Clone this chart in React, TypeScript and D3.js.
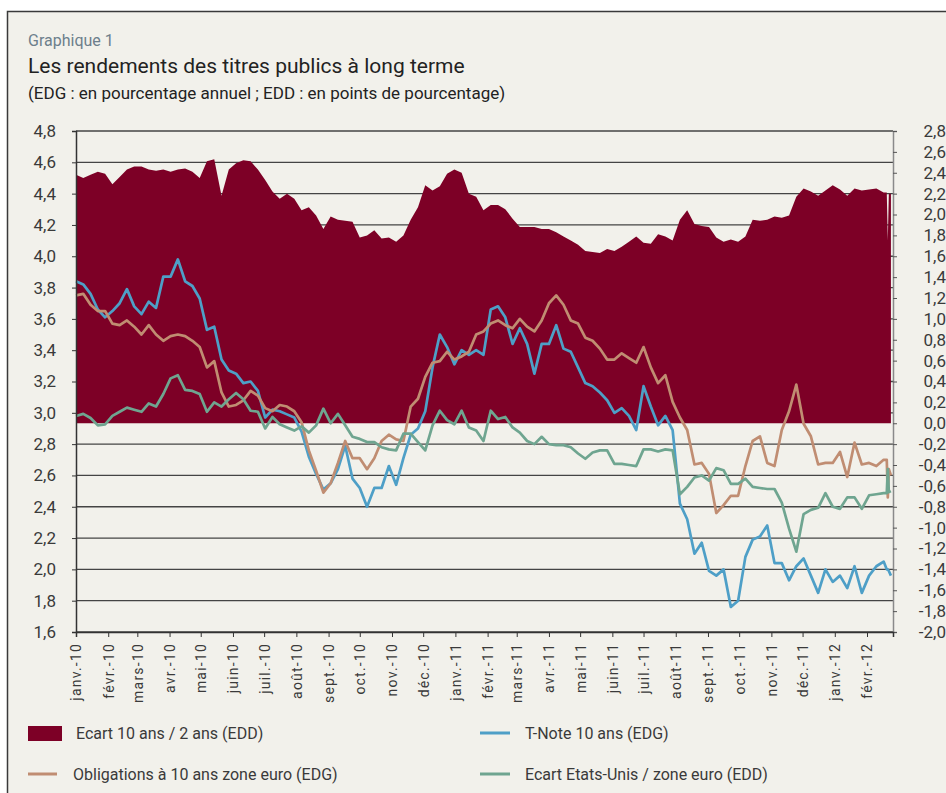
import { useEffect, useRef } from "react";
import * as d3 from "d3";

// weekly readings, Jan 1 2010 -> Feb 17 2012, then a few end-of-Feb days
const startDate = new Date(2010, 0, 1);
const tailDates = ["2012-02-20", "2012-02-21", "2012-02-22", "2012-02-24"];
const dates = d3
  .range(112)
  .map((i) => d3.timeDay.offset(startDate, 7 * i))
  .concat(tailDates.map((s) => d3.timeParse("%Y-%m-%d")(s)));

// Ecart 10 ans / 2 ans (EDD)
const spread = [
  2.38, 2.35, 2.38, 2.41, 2.39, 2.29, 2.36, 2.43, 2.46, 2.46,
  2.43, 2.42, 2.43, 2.41, 2.43, 2.44, 2.41, 2.35, 2.51, 2.53,
  2.18, 2.43, 2.49, 2.52, 2.51, 2.43, 2.33, 2.22, 2.15, 2.2,
  2.15, 2.04, 2.07, 1.99, 1.86, 1.98, 1.95, 1.94, 1.93, 1.78,
  1.8, 1.85, 1.77, 1.78, 1.74, 1.8, 1.95, 2.07, 2.28, 2.23,
  2.27, 2.39, 2.43, 2.4, 2.2, 2.17, 2.04, 2.09, 2.09, 2.05,
  1.96, 1.88, 1.88, 1.88, 1.86, 1.86, 1.83, 1.79, 1.75, 1.71,
  1.65, 1.64, 1.63, 1.67, 1.65, 1.69, 1.74, 1.79, 1.73, 1.72,
  1.81, 1.79, 1.75, 1.95, 2.04, 1.91, 1.89, 1.88, 1.78, 1.74,
  1.76, 1.74, 1.79, 1.95, 1.94, 1.95, 1.98, 1.97, 1.99, 2.17,
  2.25, 2.22, 2.18, 2.23, 2.28, 2.24, 2.18, 2.25, 2.23, 2.24,
  2.25, 2.21,
  2.21, 1.75, 2.2, 2.2,
];

// T-Note 10 ans (EDG)
const tnote = [
  3.84, 3.82, 3.76, 3.66, 3.61, 3.65, 3.7, 3.79, 3.68, 3.63,
  3.71, 3.67, 3.87, 3.87, 3.98, 3.84, 3.81, 3.73, 3.53, 3.55,
  3.34, 3.27, 3.25, 3.19, 3.2, 3.14, 2.97, 3.02, 3.01, 2.99,
  2.97, 2.88, 2.72, 2.61, 2.51, 2.55, 2.64, 2.79, 2.58, 2.52,
  2.4, 2.52, 2.52, 2.66, 2.54, 2.71, 2.86, 2.9, 3.01, 3.29,
  3.5, 3.42, 3.31, 3.4, 3.37, 3.4, 3.37, 3.66, 3.68, 3.61,
  3.44, 3.54, 3.44, 3.25, 3.44, 3.44, 3.56, 3.41, 3.39, 3.29,
  3.19, 3.17, 3.13, 3.08, 3.0, 3.03, 2.98, 2.89, 3.17, 3.04,
  2.92, 2.98, 2.89, 2.42, 2.32, 2.1, 2.17, 1.99, 1.96, 2.0,
  1.76, 1.8, 2.08, 2.19, 2.21, 2.28, 2.04, 2.04, 1.93, 2.02,
  2.07, 1.96, 1.85, 2.0, 1.92, 1.96, 1.88, 2.02, 1.85, 1.96,
  2.02, 2.05,
  2.0, 2.0, 1.99, 1.96,
];

// Obligations à 10 ans zone euro (EDG)
const euroBond = [
  3.75, 3.76, 3.69, 3.65, 3.65, 3.57, 3.56, 3.59, 3.55, 3.5,
  3.56, 3.5, 3.46, 3.49, 3.5, 3.49, 3.46, 3.42, 3.29, 3.33,
  3.13, 3.04, 3.05, 3.08, 3.14, 3.11, 3.03, 3.01, 3.05, 3.04,
  3.01, 2.94, 2.76, 2.63, 2.49, 2.55, 2.68, 2.82, 2.71, 2.71,
  2.64, 2.71, 2.82, 2.86, 2.83, 2.82, 3.04, 3.09, 3.23, 3.32,
  3.33, 3.39, 3.34, 3.36, 3.39, 3.5, 3.52, 3.57, 3.59, 3.56,
  3.54, 3.6, 3.55, 3.52, 3.59, 3.7, 3.75, 3.69, 3.59, 3.57,
  3.48, 3.46, 3.41, 3.34, 3.34, 3.38, 3.35, 3.32, 3.42, 3.29,
  3.19, 3.24, 3.07, 2.97, 2.89, 2.67, 2.68, 2.61, 2.36, 2.41,
  2.47, 2.47, 2.66, 2.82, 2.85, 2.68, 2.66, 2.89, 3.01, 3.18,
  2.93, 2.85, 2.67, 2.68, 2.68, 2.75, 2.59, 2.81, 2.67, 2.68,
  2.66, 2.7,
  2.7, 2.46, 2.64, 2.6,
];

// Ecart Etats-Unis / zone euro (EDD)
const usEuro = [
  0.07, 0.09, 0.05, -0.02, -0.01, 0.07, 0.11, 0.15, 0.13, 0.11,
  0.19, 0.16, 0.28, 0.43, 0.46, 0.32, 0.31, 0.28, 0.11, 0.2,
  0.16, 0.23, 0.29, 0.23, 0.12, 0.11, -0.05, 0.06, -0.01, -0.04,
  -0.07, -0.03, -0.09, -0.02, 0.14, 0.0, 0.09, -0.02, -0.13, -0.15,
  -0.18, -0.18, -0.23, -0.25, -0.26, -0.1, -0.1, -0.18, -0.26, -0.02,
  0.12, 0.03, -0.01, 0.12, -0.04, -0.07, -0.17, 0.12, 0.04, 0.06,
  -0.04, -0.09, -0.17, -0.2, -0.13, -0.2, -0.21, -0.21, -0.23, -0.29,
  -0.34, -0.28, -0.26, -0.26, -0.39, -0.39, -0.4, -0.41, -0.25, -0.25,
  -0.27, -0.25, -0.26, -0.68, -0.61, -0.52, -0.5, -0.55, -0.43, -0.45,
  -0.58, -0.58, -0.53, -0.61, -0.62, -0.63, -0.63, -0.76, -1.01, -1.23,
  -0.87, -0.83, -0.81, -0.67, -0.8, -0.82, -0.71, -0.71, -0.82, -0.69,
  -0.68, -0.67,
  -0.67, -0.44, -0.66, -0.65,
];

const leftTicks = d3.range(16, 49, 2).map((d) => d / 10);
const rightTicks = d3.range(-20, 29, 2).map((d) => d / 10);
const monthNames = ["janv.", "févr.", "mars", "avr.", "mai", "juin", "juil.", "août", "sept.", "oct.", "nov.", "déc."];

const FONT = "Roboto, 'DejaVu Sans', sans-serif";
const BG = "#f2f1eb";
const C_AREA = "#7d0026";
const C_BLUE = "#4e9fc7";
const C_BROWN = "#c08d72";
const C_GREEN = "#6fa590";

export default function App() {
  const svgRef = useRef(null);

  useEffect(() => {
    const svg = d3.select(svgRef.current);
    svg.selectAll("*").remove();

    const W = 946;
    const H = 793;
    const plot = { left: 76, right: 893, top: 131, bottom: 632 };

    svg.attr("width", W).attr("height", H);

    // fond + cadre
    svg.append("rect").attr("width", W).attr("height", H).attr("fill", "#ffffff");
    svg
      .append("rect")
      .attr("x", 7.5)
      .attr("y", 11.5)
      .attr("width", W + 10)
      .attr("height", H + 10)
      .attr("fill", BG)
      .attr("stroke", "#3a3a3a")
      .attr("stroke-width", 1.5);

    // titres
    svg
      .append("text")
      .attr("x", 28)
      .attr("y", 46)
      .attr("font-family", FONT)
      .attr("font-size", 16)
      .attr("fill", "#6d7f8c")
      .text("Graphique 1");
    svg
      .append("text")
      .attr("x", 28)
      .attr("y", 73)
      .attr("font-family", FONT)
      .attr("font-size", 21)
      .attr("fill", "#222")
      .text("Les rendements des titres publics à long terme");
    svg
      .append("text")
      .attr("x", 28)
      .attr("y", 99)
      .attr("font-family", FONT)
      .attr("font-size", 17)
      .attr("fill", "#222")
      .text("(EDG : en pourcentage annuel ; EDD : en points de pourcentage)");

    // échelles
    const x = d3
      .scaleTime()
      .domain([startDate, new Date(2012, 1, 26)])
      .range([plot.left, plot.right]);
    const yL = d3.scaleLinear().domain([1.6, 4.8]).range([plot.bottom, plot.top]);
    const yR = d3.scaleLinear().domain([-2.0, 2.8]).range([plot.bottom, plot.top]);

    const fmt = (v) => d3.format(".1f")(v).replace(".", ",").replace("−", "-");

    // grille horizontale
    svg
      .append("g")
      .selectAll("line")
      .data(leftTicks)
      .enter()
      .append("line")
      .attr("x1", plot.left)
      .attr("x2", plot.right)
      .attr("y1", (d) => yL(d))
      .attr("y2", (d) => yL(d))
      .attr("stroke", "#444")
      .attr("stroke-width", 1.3);

    // aire : écart 10 ans / 2 ans
    const area = d3
      .area()
      .x((d, i) => x(dates[i]))
      .y0(yR(0))
      .y1((d) => yR(d));
    svg.append("path").datum(spread).attr("d", area).attr("fill", C_AREA);

    // courbes
    const lineL = d3
      .line()
      .x((d, i) => x(dates[i]))
      .y((d) => yL(d));
    const lineR = d3
      .line()
      .x((d, i) => x(dates[i]))
      .y((d) => yR(d));

    [
      { data: tnote, line: lineL, color: C_BLUE },
      { data: euroBond, line: lineL, color: C_BROWN },
      { data: usEuro, line: lineR, color: C_GREEN },
    ].forEach((s) => {
      svg
        .append("path")
        .datum(s.data)
        .attr("d", s.line)
        .attr("fill", "none")
        .attr("stroke", s.color)
        .attr("stroke-width", 2.7)
        .attr("stroke-linejoin", "round");
    });

    // axe gauche
    const gL = svg
      .append("g")
      .attr("transform", `translate(${plot.left},0)`)
      .call(d3.axisLeft(yL).tickValues(leftTicks).tickSize(4).tickPadding(16).tickFormat(fmt));
    gL.select(".domain").attr("stroke", "#333").attr("stroke-width", 1.5);
    gL.selectAll(".tick line").attr("stroke", "#333");
    gL.selectAll("text")
      .attr("font-family", FONT)
      .attr("font-size", 17)
      .attr("fill", "#3a3a3a");

    // axe droit
    const gR = svg
      .append("g")
      .attr("transform", `translate(${plot.right},0)`)
      .call(d3.axisRight(yR).tickValues(rightTicks).tickSize(4).tickFormat(fmt));
    gR.select(".domain").attr("stroke", "#8a8a8a").attr("stroke-width", 1.5);
    gR.selectAll(".tick line").attr("stroke", "#555");
    gR.selectAll("text")
      .attr("x", 53)
      .attr("text-anchor", "end")
      .attr("font-family", FONT)
      .attr("font-size", 17)
      .attr("fill", "#3a3a3a");

    // axe des dates
    const months = d3.timeMonth.range(startDate, new Date(2012, 1, 26));
    const gX = svg
      .append("g")
      .attr("transform", `translate(0,${plot.bottom})`)
      .call(
        d3
          .axisBottom(x)
          .tickValues(months)
          .tickSize(5)
          .tickFormat((d) => `${monthNames[d.getMonth()]}-${String(d.getFullYear()).slice(2)}`)
      );
    gX.select(".domain").attr("stroke", "#333").attr("stroke-width", 1.5);
    gX.selectAll(".tick line").attr("stroke", "#333");
    gX.selectAll("text")
      .attr("transform", "rotate(-90)")
      .attr("text-anchor", "end")
      .attr("x", -11)
      .attr("y", 0)
      .attr("dy", "0.35em")
      .attr("font-family", FONT)
      .attr("font-size", 14)
      .attr("letter-spacing", 1.2)
      .attr("fill", "#3a3a3a");

    // légende
    const legend = svg.append("g").attr("font-family", FONT).attr("font-size", 16).attr("fill", "#3a3a3a");
    legend.append("rect").attr("x", 28).attr("y", 726).attr("width", 34).attr("height", 15).attr("fill", C_AREA);
    legend.append("text").attr("x", 76).attr("y", 739).text("Ecart 10 ans / 2 ans (EDD)");
    legend
      .append("line")
      .attr("x1", 480)
      .attr("x2", 510)
      .attr("y1", 733)
      .attr("y2", 733)
      .attr("stroke", C_BLUE)
      .attr("stroke-width", 3);
    legend.append("text").attr("x", 525).attr("y", 739).text("T-Note 10 ans (EDG)");
    legend
      .append("line")
      .attr("x1", 28)
      .attr("x2", 57)
      .attr("y1", 774)
      .attr("y2", 774)
      .attr("stroke", C_BROWN)
      .attr("stroke-width", 3);
    legend.append("text").attr("x", 73).attr("y", 780).text("Obligations à 10 ans zone euro (EDG)");
    legend
      .append("line")
      .attr("x1", 480)
      .attr("x2", 510)
      .attr("y1", 774)
      .attr("y2", 774)
      .attr("stroke", C_GREEN)
      .attr("stroke-width", 3);
    legend.append("text").attr("x", 525).attr("y", 780).text("Ecart Etats-Unis / zone euro (EDD)");
  }, []);

  return (
    <div style={{ position: "absolute", left: 0, top: 0 }}>
      <svg ref={svgRef} style={{ display: "block" }} />
    </div>
  );
}
